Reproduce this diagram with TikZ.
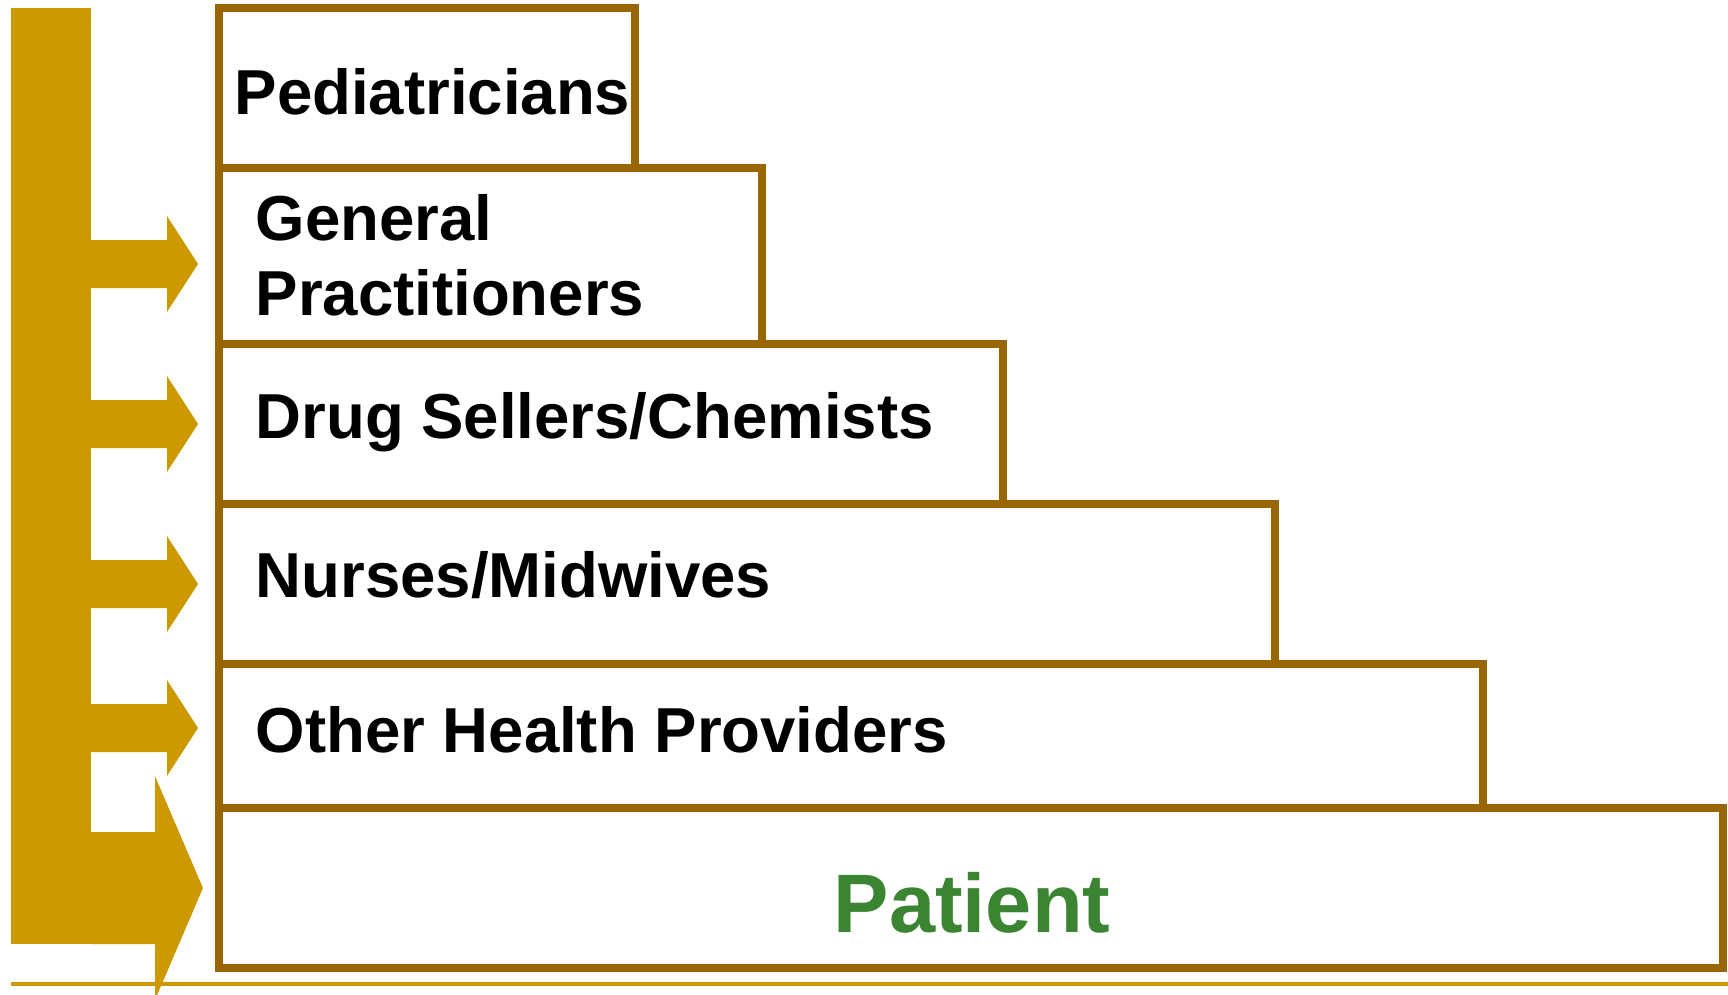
\documentclass[tikz,border=0pt]{standalone}
\usepackage{fontspec}
\setmainfont{Liberation Sans}
\definecolor{tierbrown}{HTML}{996600}
\definecolor{feedgold}{HTML}{CC9900}
\definecolor{patientgreen}{RGB}{58,132,50}
\tikzstyle{tier}=[draw=tierbrown, line width=0.08cm]
\tikzstyle{feed}=[fill=feedgold]
\tikzstyle{provider}=[anchor=base west, inner sep=0pt, align=left,
    font=\bfseries\fontsize{18.07}{21.05}\selectfont]
\newcommand{\provider}{\node[provider]}

\begin{document}
\begin{tikzpicture}[x=0.01cm, y=-0.01cm]
\useasboundingbox (0,0) rectangle (1728,994);
% the steps
\draw[tier] (219,8)   rectangle (635,168);
\draw[tier] (219,168) rectangle (762,344);
\draw[tier] (219,344) rectangle (1003,504);
\draw[tier] (219,504) rectangle (1275,664);
\draw[tier] (219,664) rectangle (1483,808);
\draw[tier] (219,808) rectangle (1723,968);
% gold bar and its arrows
\fill[feed] (11,8) rectangle (91,944);
\foreach \y in {264,424,584,728}
    \fill[feed] (91,\y-24) -- (167,\y-24) -- (167,\y-48) -- (198,\y)
        -- (167,\y+48) -- (167,\y+24) -- (91,\y+24) -- cycle;
\fill[feed] (91,832) -- (155,832) -- (155,776) -- (203,888)
    -- (155,1000) -- (155,944) -- (91,944) -- cycle;
\draw[feedgold, line width=0.04cm] (11,984) -- (1728,984);

\provider (ped)   at (234,115) {Pediatricians};
\provider (gp)    at (255,315) {General\\Practitioners};
\provider (drug)  at (255,438) {Drug Sellers/Chemists};
\provider (nurse) at (255,597) {Nurses/Midwives};
\provider (other) at (255,752) {Other Health Providers};
\node[provider, text=patientgreen, font=\bfseries\fontsize{23.6}{28}\selectfont]
    (patient) at (833,932) {Patient};
\end{tikzpicture}
\end{document}
